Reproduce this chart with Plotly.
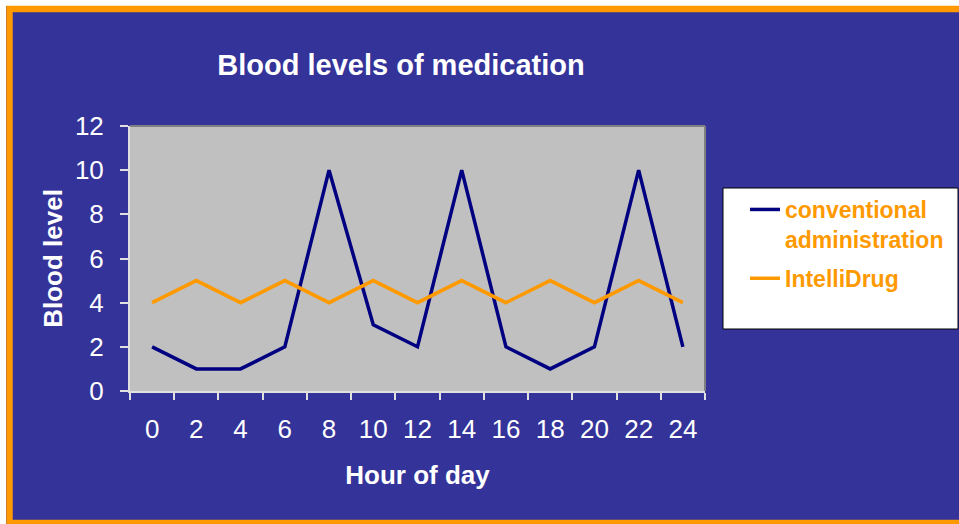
import plotly.graph_objects as go

hours = ["0", "2", "4", "6", "8", "10", "12", "14", "16", "18", "20", "22", "24"]
conventional = [2, 1, 1, 2, 10, 3, 2, 10, 2, 1, 2, 10, 2]
intellidrug = [4, 5, 4, 5, 4, 5, 4, 5, 4, 5, 4, 5, 4]
y_ticks = [0, 2, 4, 6, 8, 10, 12]

W, H = 959, 524
L, R, T, B = 130, 705, 126, 391  # plot area in pixels


def px(x):
    return (x - L) / (R - L)


def py(y):
    return (B - y) / (B - T)


FONT = "Liberation Sans, Arial, sans-serif"
BLUE = "#333399"
ORANGE = "#FF9900"
NAVY = "#000080"

fig = go.Figure()
fig.add_trace(go.Scatter(x=hours, y=conventional, mode="lines",
                         name="conventional<br>administration", legendgroup="a",
                         line=dict(color=NAVY, width=3.5)))
fig.add_trace(go.Scatter(x=hours, y=intellidrug, mode="lines",
                         name="IntelliDrug", legendgroup="b",
                         line=dict(color=ORANGE, width=3.5)))

shapes = [
    # white margin strips at top and left
    dict(type="rect", xref="paper", yref="paper", x0=px(-5), x1=px(970), y0=py(-5), y1=py(6),
         fillcolor="white", line=dict(width=0), layer="below"),
    dict(type="rect", xref="paper", yref="paper", x0=px(-5), x1=px(6), y0=py(-5), y1=py(530),
         fillcolor="white", line=dict(width=0), layer="below"),
    # orange frame
    dict(type="rect", xref="paper", yref="paper", x0=px(9.5), x1=px(963), y0=py(9), y1=py(523),
         fillcolor="rgba(0,0,0,0)", line=dict(color=ORANGE, width=6.5), layer="below"),
    # plot-area top and right border
    dict(type="line", xref="paper", yref="paper", x0=0, x1=1, y0=1, y1=1,
         line=dict(color="#808080", width=2), layer="above"),
    dict(type="line", xref="paper", yref="paper", x0=1, x1=1, y0=0, y1=1,
         line=dict(color="#808080", width=2), layer="above"),
    # legend box
    dict(type="rect", xref="paper", yref="paper", x0=px(723), x1=px(958), y0=py(329), y1=py(188),
         fillcolor="white", line=dict(color="black", width=1), layer="below"),
]

fig.update_layout(
    width=W, height=H,
    margin=dict(l=L, r=W - R, t=T, b=H - B, autoexpand=False),
    paper_bgcolor=BLUE,
    plot_bgcolor="#C0C0C0",
    font=dict(family=FONT, color="white"),
    title=dict(text="Blood levels of medication", x=401 / W, xref="container", xanchor="center",
               y=1 - 65 / H, yref="container", yanchor="middle",
               font=dict(size=29, weight="bold", color="white", family=FONT)),
    showlegend=True,
    legend=dict(x=px(745), xanchor="left", y=py(188), yanchor="top",
                bgcolor="rgba(0,0,0,0)", borderwidth=0, valign="top",
                tracegroupgap=6,
                font=dict(size=23, weight="bold", color=ORANGE, family=FONT)),
    shapes=shapes,
    xaxis=dict(type="category", range=[-0.5, 12.5], tickson="boundaries",
               ticks="outside", ticklen=7, tickcolor="#E0E0E0", tickwidth=2,
               showline=True, linecolor="#E0E0E0", linewidth=2,
               showgrid=False, zeroline=False,
               tickfont=dict(size=26, color="white", family=FONT),
               ticklabelstandoff=14,
               title=dict(text="Hour of day", standoff=23,
                          font=dict(size=26, weight="bold", color="white", family=FONT))),
    yaxis=dict(range=[0, 12], tickvals=y_ticks, ticktext=[str(v) for v in y_ticks],
               ticks="outside", ticklen=8, tickcolor="#E0E0E0", tickwidth=2,
               showline=True, linecolor="#E0E0E0", linewidth=2,
               showgrid=False, zeroline=False,
               tickfont=dict(size=26, color="white", family=FONT),
               ticklabelstandoff=11,
               title=dict(text="Blood level", standoff=5,
                          font=dict(size=26, weight="bold", color="white", family=FONT))),
)

fig.write_html("out.html", config={"displayModeBar": False},
               post_script="document.body.style.margin='0';document.body.style.overflow='hidden';")
